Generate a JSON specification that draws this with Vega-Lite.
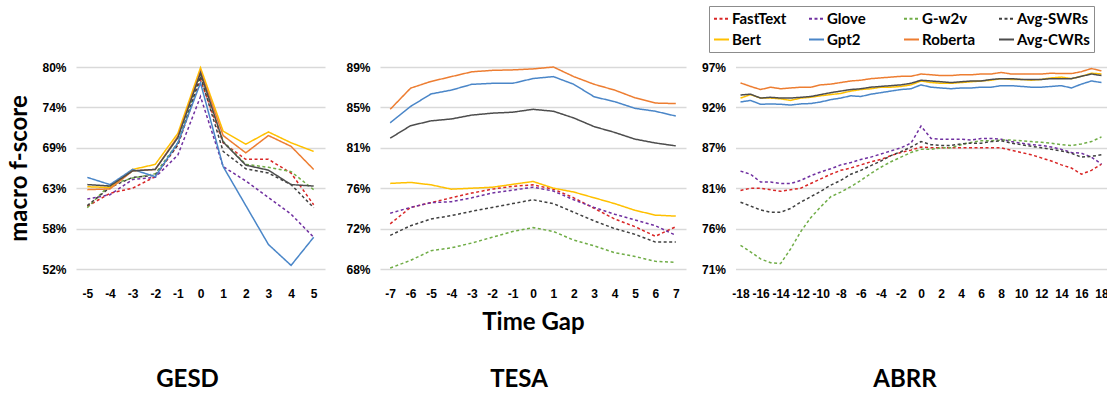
{
  "$schema": "https://vega.github.io/schema/vega-lite/v6.json",
  "background": "white",
  "padding": {"left": 7, "top": 5, "right": 0, "bottom": 0},
  "bounds": "flush",
  "spacing": 55,
  "datasets": {
    "gesd": [
      {"s":"FastText","t":-5,"v":60.7},{"s":"FastText","t":-4,"v":62.5},{"s":"FastText","t":-3,"v":63.2},{"s":"FastText","t":-2,"v":64.8},{"s":"FastText","t":-1,"v":69.2},{"s":"FastText","t":0,"v":78.2},{"s":"FastText","t":1,"v":69.5},{"s":"FastText","t":2,"v":67.2},{"s":"FastText","t":3,"v":67.2},{"s":"FastText","t":4,"v":65.3},{"s":"FastText","t":5,"v":60.9},
      {"s":"Glove","t":-5,"v":61.7},{"s":"Glove","t":-4,"v":62.3},{"s":"Glove","t":-3,"v":64.4},{"s":"Glove","t":-2,"v":64.7},{"s":"Glove","t":-1,"v":67.8},{"s":"Glove","t":0,"v":75.9},{"s":"Glove","t":1,"v":66.2},{"s":"Glove","t":2,"v":64.2},{"s":"Glove","t":3,"v":61.9},{"s":"Glove","t":4,"v":59.6},{"s":"Glove","t":5,"v":56.4},
      {"s":"G-w2v","t":-5,"v":60.5},{"s":"G-w2v","t":-4,"v":63.7},{"s":"G-w2v","t":-3,"v":64.6},{"s":"G-w2v","t":-2,"v":65.2},{"s":"G-w2v","t":-1,"v":69.5},{"s":"G-w2v","t":0,"v":78.9},{"s":"G-w2v","t":1,"v":69.7},{"s":"G-w2v","t":2,"v":66.5},{"s":"G-w2v","t":3,"v":66.1},{"s":"G-w2v","t":4,"v":65.5},{"s":"G-w2v","t":5,"v":63.0},
      {"s":"Avg-SWRs","t":-5,"v":60.8},{"s":"Avg-SWRs","t":-4,"v":63.3},{"s":"Avg-SWRs","t":-3,"v":64.7},{"s":"Avg-SWRs","t":-2,"v":65.0},{"s":"Avg-SWRs","t":-1,"v":69.2},{"s":"Avg-SWRs","t":0,"v":78.7},{"s":"Avg-SWRs","t":1,"v":68.3},{"s":"Avg-SWRs","t":2,"v":65.9},{"s":"Avg-SWRs","t":3,"v":65.3},{"s":"Avg-SWRs","t":4,"v":63.7},{"s":"Avg-SWRs","t":5,"v":60.5},
      {"s":"Bert","t":-5,"v":63.4},{"s":"Bert","t":-4,"v":63.3},{"s":"Bert","t":-3,"v":65.8},{"s":"Bert","t":-2,"v":66.5},{"s":"Bert","t":-1,"v":70.8},{"s":"Bert","t":0,"v":79.9},{"s":"Bert","t":1,"v":71.1},{"s":"Bert","t":2,"v":69.3},{"s":"Bert","t":3,"v":71.0},{"s":"Bert","t":4,"v":69.5},{"s":"Bert","t":5,"v":68.3},
      {"s":"Gpt2","t":-5,"v":64.7},{"s":"Gpt2","t":-4,"v":63.7},{"s":"Gpt2","t":-3,"v":65.8},{"s":"Gpt2","t":-2,"v":64.8},{"s":"Gpt2","t":-1,"v":69.5},{"s":"Gpt2","t":0,"v":77.8},{"s":"Gpt2","t":1,"v":66.2},{"s":"Gpt2","t":2,"v":60.8},{"s":"Gpt2","t":3,"v":55.4},{"s":"Gpt2","t":4,"v":52.5},{"s":"Gpt2","t":5,"v":56.4},
      {"s":"Roberta","t":-5,"v":63.0},{"s":"Roberta","t":-4,"v":63.1},{"s":"Roberta","t":-3,"v":65.6},{"s":"Roberta","t":-2,"v":65.8},{"s":"Roberta","t":-1,"v":70.4},{"s":"Roberta","t":0,"v":79.4},{"s":"Roberta","t":1,"v":70.5},{"s":"Roberta","t":2,"v":68.1},{"s":"Roberta","t":3,"v":70.5},{"s":"Roberta","t":4,"v":69.0},{"s":"Roberta","t":5,"v":65.8},
      {"s":"Avg-CWRs","t":-5,"v":63.7},{"s":"Avg-CWRs","t":-4,"v":63.5},{"s":"Avg-CWRs","t":-3,"v":65.6},{"s":"Avg-CWRs","t":-2,"v":65.8},{"s":"Avg-CWRs","t":-1,"v":70.2},{"s":"Avg-CWRs","t":0,"v":79.2},{"s":"Avg-CWRs","t":1,"v":69.6},{"s":"Avg-CWRs","t":2,"v":66.4},{"s":"Avg-CWRs","t":3,"v":65.7},{"s":"Avg-CWRs","t":4,"v":63.7},{"s":"Avg-CWRs","t":5,"v":63.5}
    ],
    "tesa": [
      {"s":"FastText","t":-7,"v":72.7},{"s":"FastText","t":-6,"v":74.4},{"s":"FastText","t":-5,"v":74.9},{"s":"FastText","t":-4,"v":75.4},{"s":"FastText","t":-3,"v":75.9},{"s":"FastText","t":-2,"v":76.3},{"s":"FastText","t":-1,"v":76.6},{"s":"FastText","t":0,"v":76.75},{"s":"FastText","t":1,"v":76.3},{"s":"FastText","t":2,"v":75.4},{"s":"FastText","t":3,"v":74.3},{"s":"FastText","t":4,"v":73.2},{"s":"FastText","t":5,"v":72.4},{"s":"FastText","t":6,"v":71.4},{"s":"FastText","t":7,"v":72.4},
      {"s":"Glove","t":-7,"v":73.8},{"s":"Glove","t":-6,"v":74.4},{"s":"Glove","t":-5,"v":74.9},{"s":"Glove","t":-4,"v":75.0},{"s":"Glove","t":-3,"v":75.4},{"s":"Glove","t":-2,"v":75.9},{"s":"Glove","t":-1,"v":76.2},{"s":"Glove","t":0,"v":76.5},{"s":"Glove","t":1,"v":76.1},{"s":"Glove","t":2,"v":75.2},{"s":"Glove","t":3,"v":74.4},{"s":"Glove","t":4,"v":73.7},{"s":"Glove","t":5,"v":73.1},{"s":"Glove","t":6,"v":72.5},{"s":"Glove","t":7,"v":71.5},
      {"s":"G-w2v","t":-7,"v":68.1},{"s":"G-w2v","t":-6,"v":68.9},{"s":"G-w2v","t":-5,"v":69.9},{"s":"G-w2v","t":-4,"v":70.2},{"s":"G-w2v","t":-3,"v":70.7},{"s":"G-w2v","t":-2,"v":71.3},{"s":"G-w2v","t":-1,"v":71.9},{"s":"G-w2v","t":0,"v":72.3},{"s":"G-w2v","t":1,"v":71.9},{"s":"G-w2v","t":2,"v":71.0},{"s":"G-w2v","t":3,"v":70.4},{"s":"G-w2v","t":4,"v":69.7},{"s":"G-w2v","t":5,"v":69.3},{"s":"G-w2v","t":6,"v":68.8},{"s":"G-w2v","t":7,"v":68.7},
      {"s":"Avg-SWRs","t":-7,"v":71.5},{"s":"Avg-SWRs","t":-6,"v":72.5},{"s":"Avg-SWRs","t":-5,"v":73.2},{"s":"Avg-SWRs","t":-4,"v":73.55},{"s":"Avg-SWRs","t":-3,"v":74.0},{"s":"Avg-SWRs","t":-2,"v":74.4},{"s":"Avg-SWRs","t":-1,"v":74.8},{"s":"Avg-SWRs","t":0,"v":75.2},{"s":"Avg-SWRs","t":1,"v":74.8},{"s":"Avg-SWRs","t":2,"v":73.9},{"s":"Avg-SWRs","t":3,"v":73.0},{"s":"Avg-SWRs","t":4,"v":72.2},{"s":"Avg-SWRs","t":5,"v":71.6},{"s":"Avg-SWRs","t":6,"v":70.8},{"s":"Avg-SWRs","t":7,"v":70.8},
      {"s":"Bert","t":-7,"v":76.9},{"s":"Bert","t":-6,"v":77.0},{"s":"Bert","t":-5,"v":76.75},{"s":"Bert","t":-4,"v":76.3},{"s":"Bert","t":-3,"v":76.4},{"s":"Bert","t":-2,"v":76.5},{"s":"Bert","t":-1,"v":76.8},{"s":"Bert","t":0,"v":77.1},{"s":"Bert","t":1,"v":76.4},{"s":"Bert","t":2,"v":76.0},{"s":"Bert","t":3,"v":75.4},{"s":"Bert","t":4,"v":74.8},{"s":"Bert","t":5,"v":74.1},{"s":"Bert","t":6,"v":73.6},{"s":"Bert","t":7,"v":73.5},
      {"s":"Gpt2","t":-7,"v":83.2},{"s":"Gpt2","t":-6,"v":84.9},{"s":"Gpt2","t":-5,"v":86.2},{"s":"Gpt2","t":-4,"v":86.6},{"s":"Gpt2","t":-3,"v":87.2},{"s":"Gpt2","t":-2,"v":87.3},{"s":"Gpt2","t":-1,"v":87.3},{"s":"Gpt2","t":0,"v":87.8},{"s":"Gpt2","t":1,"v":88.0},{"s":"Gpt2","t":2,"v":87.2},{"s":"Gpt2","t":3,"v":85.9},{"s":"Gpt2","t":4,"v":85.4},{"s":"Gpt2","t":5,"v":84.7},{"s":"Gpt2","t":6,"v":84.4},{"s":"Gpt2","t":7,"v":83.9},
      {"s":"Roberta","t":-7,"v":84.6},{"s":"Roberta","t":-6,"v":86.8},{"s":"Roberta","t":-5,"v":87.5},{"s":"Roberta","t":-4,"v":88.0},{"s":"Roberta","t":-3,"v":88.5},{"s":"Roberta","t":-2,"v":88.65},{"s":"Roberta","t":-1,"v":88.7},{"s":"Roberta","t":0,"v":88.8},{"s":"Roberta","t":1,"v":89.0},{"s":"Roberta","t":2,"v":88.0},{"s":"Roberta","t":3,"v":87.2},{"s":"Roberta","t":4,"v":86.6},{"s":"Roberta","t":5,"v":85.8},{"s":"Roberta","t":6,"v":85.25},{"s":"Roberta","t":7,"v":85.2},
      {"s":"Avg-CWRs","t":-7,"v":81.6},{"s":"Avg-CWRs","t":-6,"v":82.9},{"s":"Avg-CWRs","t":-5,"v":83.4},{"s":"Avg-CWRs","t":-4,"v":83.6},{"s":"Avg-CWRs","t":-3,"v":84.0},{"s":"Avg-CWRs","t":-2,"v":84.2},{"s":"Avg-CWRs","t":-1,"v":84.3},{"s":"Avg-CWRs","t":0,"v":84.6},{"s":"Avg-CWRs","t":1,"v":84.4},{"s":"Avg-CWRs","t":2,"v":83.7},{"s":"Avg-CWRs","t":3,"v":82.8},{"s":"Avg-CWRs","t":4,"v":82.2},{"s":"Avg-CWRs","t":5,"v":81.5},{"s":"Avg-CWRs","t":6,"v":81.1},{"s":"Avg-CWRs","t":7,"v":80.8}
    ],
    "abrr": [
      {"s":"FastText","t":-18,"v":81.1},{"s":"FastText","t":-17,"v":81.4},{"s":"FastText","t":-16,"v":81.4},{"s":"FastText","t":-15,"v":81.2},{"s":"FastText","t":-14,"v":81.0},{"s":"FastText","t":-13,"v":81.2},{"s":"FastText","t":-12,"v":81.4},{"s":"FastText","t":-11,"v":82.0},{"s":"FastText","t":-10,"v":82.6},{"s":"FastText","t":-9,"v":83.2},{"s":"FastText","t":-8,"v":83.7},{"s":"FastText","t":-7,"v":84.0},{"s":"FastText","t":-6,"v":84.4},{"s":"FastText","t":-5,"v":84.8},{"s":"FastText","t":-4,"v":85.1},{"s":"FastText","t":-3,"v":85.6},{"s":"FastText","t":-2,"v":86.0},{"s":"FastText","t":-1,"v":86.3},{"s":"FastText","t":0,"v":86.7},{"s":"FastText","t":1,"v":86.6},{"s":"FastText","t":2,"v":86.6},{"s":"FastText","t":3,"v":86.6},{"s":"FastText","t":4,"v":86.6},{"s":"FastText","t":5,"v":86.6},{"s":"FastText","t":6,"v":86.6},{"s":"FastText","t":7,"v":86.6},{"s":"FastText","t":8,"v":86.6},{"s":"FastText","t":9,"v":86.3},{"s":"FastText","t":10,"v":86.0},{"s":"FastText","t":11,"v":85.7},{"s":"FastText","t":12,"v":85.3},{"s":"FastText","t":13,"v":84.9},{"s":"FastText","t":14,"v":84.4},{"s":"FastText","t":15,"v":84.0},{"s":"FastText","t":16,"v":83.2},{"s":"FastText","t":17,"v":83.7},{"s":"FastText","t":18,"v":84.5},
      {"s":"Glove","t":-18,"v":83.6},{"s":"Glove","t":-17,"v":83.2},{"s":"Glove","t":-16,"v":82.2},{"s":"Glove","t":-15,"v":82.2},{"s":"Glove","t":-14,"v":82.0},{"s":"Glove","t":-13,"v":82.0},{"s":"Glove","t":-12,"v":82.4},{"s":"Glove","t":-11,"v":83.0},{"s":"Glove","t":-10,"v":83.5},{"s":"Glove","t":-9,"v":83.9},{"s":"Glove","t":-8,"v":84.4},{"s":"Glove","t":-7,"v":84.7},{"s":"Glove","t":-6,"v":85.1},{"s":"Glove","t":-5,"v":85.4},{"s":"Glove","t":-4,"v":85.8},{"s":"Glove","t":-3,"v":86.2},{"s":"Glove","t":-2,"v":86.6},{"s":"Glove","t":-1,"v":87.2},{"s":"Glove","t":0,"v":89.4},{"s":"Glove","t":1,"v":87.8},{"s":"Glove","t":2,"v":87.7},{"s":"Glove","t":3,"v":87.7},{"s":"Glove","t":4,"v":87.7},{"s":"Glove","t":5,"v":87.6},{"s":"Glove","t":6,"v":87.8},{"s":"Glove","t":7,"v":87.8},{"s":"Glove","t":8,"v":87.7},{"s":"Glove","t":9,"v":87.4},{"s":"Glove","t":10,"v":87.2},{"s":"Glove","t":11,"v":87.0},{"s":"Glove","t":12,"v":86.9},{"s":"Glove","t":13,"v":86.7},{"s":"Glove","t":14,"v":86.4},{"s":"Glove","t":15,"v":86.0},{"s":"Glove","t":16,"v":85.9},{"s":"Glove","t":17,"v":85.4},{"s":"Glove","t":18,"v":84.5},
      {"s":"G-w2v","t":-18,"v":74.05},{"s":"G-w2v","t":-17,"v":73.2},{"s":"G-w2v","t":-16,"v":72.3},{"s":"G-w2v","t":-15,"v":71.8},{"s":"G-w2v","t":-14,"v":71.7},{"s":"G-w2v","t":-13,"v":73.6},{"s":"G-w2v","t":-12,"v":75.8},{"s":"G-w2v","t":-11,"v":77.6},{"s":"G-w2v","t":-10,"v":79.0},{"s":"G-w2v","t":-9,"v":80.3},{"s":"G-w2v","t":-8,"v":80.9},{"s":"G-w2v","t":-7,"v":81.6},{"s":"G-w2v","t":-6,"v":82.4},{"s":"G-w2v","t":-5,"v":83.3},{"s":"G-w2v","t":-4,"v":84.1},{"s":"G-w2v","t":-3,"v":84.8},{"s":"G-w2v","t":-2,"v":85.4},{"s":"G-w2v","t":-1,"v":86.0},{"s":"G-w2v","t":0,"v":86.4},{"s":"G-w2v","t":1,"v":86.4},{"s":"G-w2v","t":2,"v":86.6},{"s":"G-w2v","t":3,"v":86.6},{"s":"G-w2v","t":4,"v":87.0},{"s":"G-w2v","t":5,"v":87.3},{"s":"G-w2v","t":6,"v":87.5},{"s":"G-w2v","t":7,"v":87.5},{"s":"G-w2v","t":8,"v":87.6},{"s":"G-w2v","t":9,"v":87.6},{"s":"G-w2v","t":10,"v":87.5},{"s":"G-w2v","t":11,"v":87.4},{"s":"G-w2v","t":12,"v":87.3},{"s":"G-w2v","t":13,"v":87.2},{"s":"G-w2v","t":14,"v":87.0},{"s":"G-w2v","t":15,"v":86.9},{"s":"G-w2v","t":16,"v":87.1},{"s":"G-w2v","t":17,"v":87.4},{"s":"G-w2v","t":18,"v":88.0},
      {"s":"Avg-SWRs","t":-18,"v":79.6},{"s":"Avg-SWRs","t":-17,"v":79.1},{"s":"Avg-SWRs","t":-16,"v":78.6},{"s":"Avg-SWRs","t":-15,"v":78.3},{"s":"Avg-SWRs","t":-14,"v":78.3},{"s":"Avg-SWRs","t":-13,"v":78.8},{"s":"Avg-SWRs","t":-12,"v":79.6},{"s":"Avg-SWRs","t":-11,"v":80.3},{"s":"Avg-SWRs","t":-10,"v":81.0},{"s":"Avg-SWRs","t":-9,"v":81.8},{"s":"Avg-SWRs","t":-8,"v":82.4},{"s":"Avg-SWRs","t":-7,"v":83.2},{"s":"Avg-SWRs","t":-6,"v":83.7},{"s":"Avg-SWRs","t":-5,"v":84.3},{"s":"Avg-SWRs","t":-4,"v":84.9},{"s":"Avg-SWRs","t":-3,"v":85.6},{"s":"Avg-SWRs","t":-2,"v":86.1},{"s":"Avg-SWRs","t":-1,"v":86.7},{"s":"Avg-SWRs","t":0,"v":87.4},{"s":"Avg-SWRs","t":1,"v":87.0},{"s":"Avg-SWRs","t":2,"v":86.9},{"s":"Avg-SWRs","t":3,"v":86.9},{"s":"Avg-SWRs","t":4,"v":87.1},{"s":"Avg-SWRs","t":5,"v":87.2},{"s":"Avg-SWRs","t":6,"v":87.2},{"s":"Avg-SWRs","t":7,"v":87.4},{"s":"Avg-SWRs","t":8,"v":87.5},{"s":"Avg-SWRs","t":9,"v":87.2},{"s":"Avg-SWRs","t":10,"v":87.0},{"s":"Avg-SWRs","t":11,"v":86.8},{"s":"Avg-SWRs","t":12,"v":86.6},{"s":"Avg-SWRs","t":13,"v":86.4},{"s":"Avg-SWRs","t":14,"v":86.2},{"s":"Avg-SWRs","t":15,"v":85.9},{"s":"Avg-SWRs","t":16,"v":85.4},{"s":"Avg-SWRs","t":17,"v":85.5},{"s":"Avg-SWRs","t":18,"v":85.7},
      {"s":"Bert","t":-18,"v":93.0},{"s":"Bert","t":-17,"v":93.45},{"s":"Bert","t":-16,"v":93.0},{"s":"Bert","t":-15,"v":93.0},{"s":"Bert","t":-14,"v":92.9},{"s":"Bert","t":-13,"v":92.7},{"s":"Bert","t":-12,"v":93.0},{"s":"Bert","t":-11,"v":93.1},{"s":"Bert","t":-10,"v":93.3},{"s":"Bert","t":-9,"v":93.45},{"s":"Bert","t":-8,"v":93.6},{"s":"Bert","t":-7,"v":93.9},{"s":"Bert","t":-6,"v":94.1},{"s":"Bert","t":-5,"v":94.2},{"s":"Bert","t":-4,"v":94.4},{"s":"Bert","t":-3,"v":94.4},{"s":"Bert","t":-2,"v":94.5},{"s":"Bert","t":-1,"v":94.7},{"s":"Bert","t":0,"v":95.2},{"s":"Bert","t":1,"v":95.0},{"s":"Bert","t":2,"v":94.9},{"s":"Bert","t":3,"v":94.9},{"s":"Bert","t":4,"v":95.0},{"s":"Bert","t":5,"v":95.1},{"s":"Bert","t":6,"v":95.2},{"s":"Bert","t":7,"v":95.3},{"s":"Bert","t":8,"v":95.5},{"s":"Bert","t":9,"v":95.4},{"s":"Bert","t":10,"v":95.4},{"s":"Bert","t":11,"v":95.3},{"s":"Bert","t":12,"v":95.4},{"s":"Bert","t":13,"v":95.6},{"s":"Bert","t":14,"v":95.7},{"s":"Bert","t":15,"v":95.5},{"s":"Bert","t":16,"v":95.8},{"s":"Bert","t":17,"v":96.2},{"s":"Bert","t":18,"v":96.1},
      {"s":"Gpt2","t":-18,"v":92.5},{"s":"Gpt2","t":-17,"v":92.7},{"s":"Gpt2","t":-16,"v":92.2},{"s":"Gpt2","t":-15,"v":92.25},{"s":"Gpt2","t":-14,"v":92.2},{"s":"Gpt2","t":-13,"v":92.1},{"s":"Gpt2","t":-12,"v":92.25},{"s":"Gpt2","t":-11,"v":92.3},{"s":"Gpt2","t":-10,"v":92.5},{"s":"Gpt2","t":-9,"v":92.8},{"s":"Gpt2","t":-8,"v":93.0},{"s":"Gpt2","t":-7,"v":93.3},{"s":"Gpt2","t":-6,"v":93.2},{"s":"Gpt2","t":-5,"v":93.5},{"s":"Gpt2","t":-4,"v":93.7},{"s":"Gpt2","t":-3,"v":93.9},{"s":"Gpt2","t":-2,"v":94.1},{"s":"Gpt2","t":-1,"v":94.2},{"s":"Gpt2","t":0,"v":94.7},{"s":"Gpt2","t":1,"v":94.4},{"s":"Gpt2","t":2,"v":94.3},{"s":"Gpt2","t":3,"v":94.2},{"s":"Gpt2","t":4,"v":94.3},{"s":"Gpt2","t":5,"v":94.3},{"s":"Gpt2","t":6,"v":94.4},{"s":"Gpt2","t":7,"v":94.4},{"s":"Gpt2","t":8,"v":94.6},{"s":"Gpt2","t":9,"v":94.6},{"s":"Gpt2","t":10,"v":94.5},{"s":"Gpt2","t":11,"v":94.4},{"s":"Gpt2","t":12,"v":94.4},{"s":"Gpt2","t":13,"v":94.5},{"s":"Gpt2","t":14,"v":94.6},{"s":"Gpt2","t":15,"v":94.3},{"s":"Gpt2","t":16,"v":94.8},{"s":"Gpt2","t":17,"v":95.2},{"s":"Gpt2","t":18,"v":95.0},
      {"s":"Roberta","t":-18,"v":94.95},{"s":"Roberta","t":-17,"v":94.5},{"s":"Roberta","t":-16,"v":94.1},{"s":"Roberta","t":-15,"v":94.4},{"s":"Roberta","t":-14,"v":94.2},{"s":"Roberta","t":-13,"v":94.3},{"s":"Roberta","t":-12,"v":94.4},{"s":"Roberta","t":-11,"v":94.4},{"s":"Roberta","t":-10,"v":94.7},{"s":"Roberta","t":-9,"v":94.8},{"s":"Roberta","t":-8,"v":95.0},{"s":"Roberta","t":-7,"v":95.2},{"s":"Roberta","t":-6,"v":95.3},{"s":"Roberta","t":-5,"v":95.5},{"s":"Roberta","t":-4,"v":95.6},{"s":"Roberta","t":-3,"v":95.7},{"s":"Roberta","t":-2,"v":95.8},{"s":"Roberta","t":-1,"v":95.8},{"s":"Roberta","t":0,"v":96.1},{"s":"Roberta","t":1,"v":96.0},{"s":"Roberta","t":2,"v":95.9},{"s":"Roberta","t":3,"v":95.9},{"s":"Roberta","t":4,"v":96.0},{"s":"Roberta","t":5,"v":96.0},{"s":"Roberta","t":6,"v":96.1},{"s":"Roberta","t":7,"v":96.1},{"s":"Roberta","t":8,"v":96.3},{"s":"Roberta","t":9,"v":96.1},{"s":"Roberta","t":10,"v":96.1},{"s":"Roberta","t":11,"v":96.1},{"s":"Roberta","t":12,"v":96.1},{"s":"Roberta","t":13,"v":96.2},{"s":"Roberta","t":14,"v":96.15},{"s":"Roberta","t":15,"v":96.15},{"s":"Roberta","t":16,"v":96.4},{"s":"Roberta","t":17,"v":96.8},{"s":"Roberta","t":18,"v":96.5},
      {"s":"Avg-CWRs","t":-18,"v":93.4},{"s":"Avg-CWRs","t":-17,"v":93.5},{"s":"Avg-CWRs","t":-16,"v":93.0},{"s":"Avg-CWRs","t":-15,"v":93.1},{"s":"Avg-CWRs","t":-14,"v":93.0},{"s":"Avg-CWRs","t":-13,"v":93.0},{"s":"Avg-CWRs","t":-12,"v":93.1},{"s":"Avg-CWRs","t":-11,"v":93.2},{"s":"Avg-CWRs","t":-10,"v":93.45},{"s":"Avg-CWRs","t":-9,"v":93.7},{"s":"Avg-CWRs","t":-8,"v":93.9},{"s":"Avg-CWRs","t":-7,"v":94.1},{"s":"Avg-CWRs","t":-6,"v":94.2},{"s":"Avg-CWRs","t":-5,"v":94.4},{"s":"Avg-CWRs","t":-4,"v":94.5},{"s":"Avg-CWRs","t":-3,"v":94.6},{"s":"Avg-CWRs","t":-2,"v":94.7},{"s":"Avg-CWRs","t":-1,"v":94.9},{"s":"Avg-CWRs","t":0,"v":95.3},{"s":"Avg-CWRs","t":1,"v":95.2},{"s":"Avg-CWRs","t":2,"v":95.1},{"s":"Avg-CWRs","t":3,"v":95.0},{"s":"Avg-CWRs","t":4,"v":95.1},{"s":"Avg-CWRs","t":5,"v":95.2},{"s":"Avg-CWRs","t":6,"v":95.2},{"s":"Avg-CWRs","t":7,"v":95.4},{"s":"Avg-CWRs","t":8,"v":95.5},{"s":"Avg-CWRs","t":9,"v":95.5},{"s":"Avg-CWRs","t":10,"v":95.4},{"s":"Avg-CWRs","t":11,"v":95.4},{"s":"Avg-CWRs","t":12,"v":95.4},{"s":"Avg-CWRs","t":13,"v":95.5},{"s":"Avg-CWRs","t":14,"v":95.5},{"s":"Avg-CWRs","t":15,"v":95.5},{"s":"Avg-CWRs","t":16,"v":95.8},{"s":"Avg-CWRs","t":17,"v":96.1},{"s":"Avg-CWRs","t":18,"v":95.9}
    ]
  },
  "hconcat": [
    {
      "width": 249,
      "height": 202,
      "title": {"text": "GESD", "dx": -13, "offset": 69},
      "data": {"name": "gesd"},
      "mark": {"type": "line", "strokeWidth": 1.5},
      "encoding": {
        "x": {"field": "t", "type": "quantitative", "scale": {"domain": [-5.5, 5.5], "nice": false, "zero": false}, "axis": {"values": [-5,-4,-3,-2,-1,0,1,2,3,4,5], "title": null}},
        "y": {"field": "v", "type": "quantitative", "scale": {"domain": [52, 80], "nice": false, "zero": false}, "axis": {"values": [52, 57.6, 63.2, 68.8, 74.4, 80], "labelExpr": "round(datum.value) + '%'", "title": "macro f-score", "titlePadding": 10}},
        "color": {"field": "s", "type": "nominal", "title": null, "scale": {"domain": ["FastText","Glove","G-w2v","Avg-SWRs","Bert","Gpt2","Roberta","Avg-CWRs"], "range": ["#D92626","#7030A0","#70AD47","#404040","#FFC000","#4A86C8","#ED7D31","#4D4D4D"]}, "legend": {"orient": "none", "direction": "horizontal", "legendX": 633, "legendY": -61}},
        "strokeDash": {"field": "s", "type": "nominal", "title": null, "scale": {"domain": ["FastText","Glove","G-w2v","Avg-SWRs","Bert","Gpt2","Roberta","Avg-CWRs"], "range": [[3,2.5],[3,2.5],[3,2.5],[3,2.5],[1,0],[1,0],[1,0],[1,0]]}, "legend": {"orient": "none", "direction": "horizontal", "legendX": 633, "legendY": -61}}
      }
    },
    {
      "bounds": "flush",
      "spacing": 49.5,
      "hconcat": [
        {
          "width": 306,
          "height": 202,
          "title": {"text": "TESA", "dx": -14, "offset": 34},
          "data": {"name": "tesa"},
          "mark": {"type": "line", "strokeWidth": 1.5},
          "encoding": {
            "x": {"field": "t", "type": "quantitative", "scale": {"domain": [-7.5, 7.5], "nice": false, "zero": false}, "axis": {"values": [-7,-6,-5,-4,-3,-2,-1,0,1,2,3,4,5,6,7], "title": "Time Gap", "titlePadding": 11}},
            "y": {"field": "v", "type": "quantitative", "scale": {"domain": [68, 89], "nice": false, "zero": false}, "axis": {"values": [68, 72.2, 76.4, 80.6, 84.8, 89], "labelExpr": "round(datum.value) + '%'", "title": null}},
            "color": {"field": "s", "type": "nominal", "title": null},
            "strokeDash": {"field": "s", "type": "nominal", "title": null}
          }
        },
        {
          "width": 371,
          "height": 202,
          "title": {"text": "ABRR", "dx": -16, "offset": 69},
          "data": {"name": "abrr"},
          "mark": {"type": "line", "strokeWidth": 1.5},
          "encoding": {
            "x": {"field": "t", "type": "quantitative", "scale": {"domain": [-18.5, 18.5], "nice": false, "zero": false}, "axis": {"values": [-18,-16,-14,-12,-10,-8,-6,-4,-2,0,2,4,6,8,10,12,14,16,18], "title": null}},
            "y": {"field": "v", "type": "quantitative", "scale": {"domain": [71, 97], "nice": false, "zero": false}, "axis": {"values": [71, 76.2, 81.4, 86.6, 91.8, 97], "labelExpr": "round(datum.value) + '%'", "title": null}},
            "color": {"field": "s", "type": "nominal", "title": null},
            "strokeDash": {"field": "s", "type": "nominal", "title": null}
          }
        }
      ]
    }
  ],
  "config": {
    "font": "Lato",
    "view": {"stroke": null},
    "axis": {
      "domain": false,
      "ticks": false,
      "labelFont": "Liberation Sans",
      "labelFontWeight": "bold",
      "labelFontSize": 12,
      "labelColor": "#000000",
      "titleFont": "Lato",
      "titleFontWeight": "bold",
      "titleFontSize": 24,
      "titleColor": "#000000",
      "gridColor": "#d9d9d9",
      "gridWidth": 1.5
    },
    "axisX": {"grid": false, "labelPadding": 19, "labelAngle": 0, "labelFlush": false, "labelOverlap": false, "labelExpr": "'' + datum.value"},
    "axisY": {"labelPadding": 10},
    "title": {"font": "Lato", "fontSize": 24, "fontWeight": "bold", "color": "#000000", "orient": "bottom", "anchor": "middle"},
    "legend": {
      "columns": 4,
      "gridAlign": "all",
      "symbolType": "stroke",
      "symbolSize": 225,
      "symbolStrokeWidth": 2,
      "labelFont": "Lato",
      "labelFontSize": 15,
      "labelFontWeight": "bold",
      "labelColor": "#000000",
      "labelOffset": 2,
      "strokeColor": "#8c8c8c",
      "padding": 4,
      "rowPadding": 4,
      "columnPadding": 0
    }
  }
}
